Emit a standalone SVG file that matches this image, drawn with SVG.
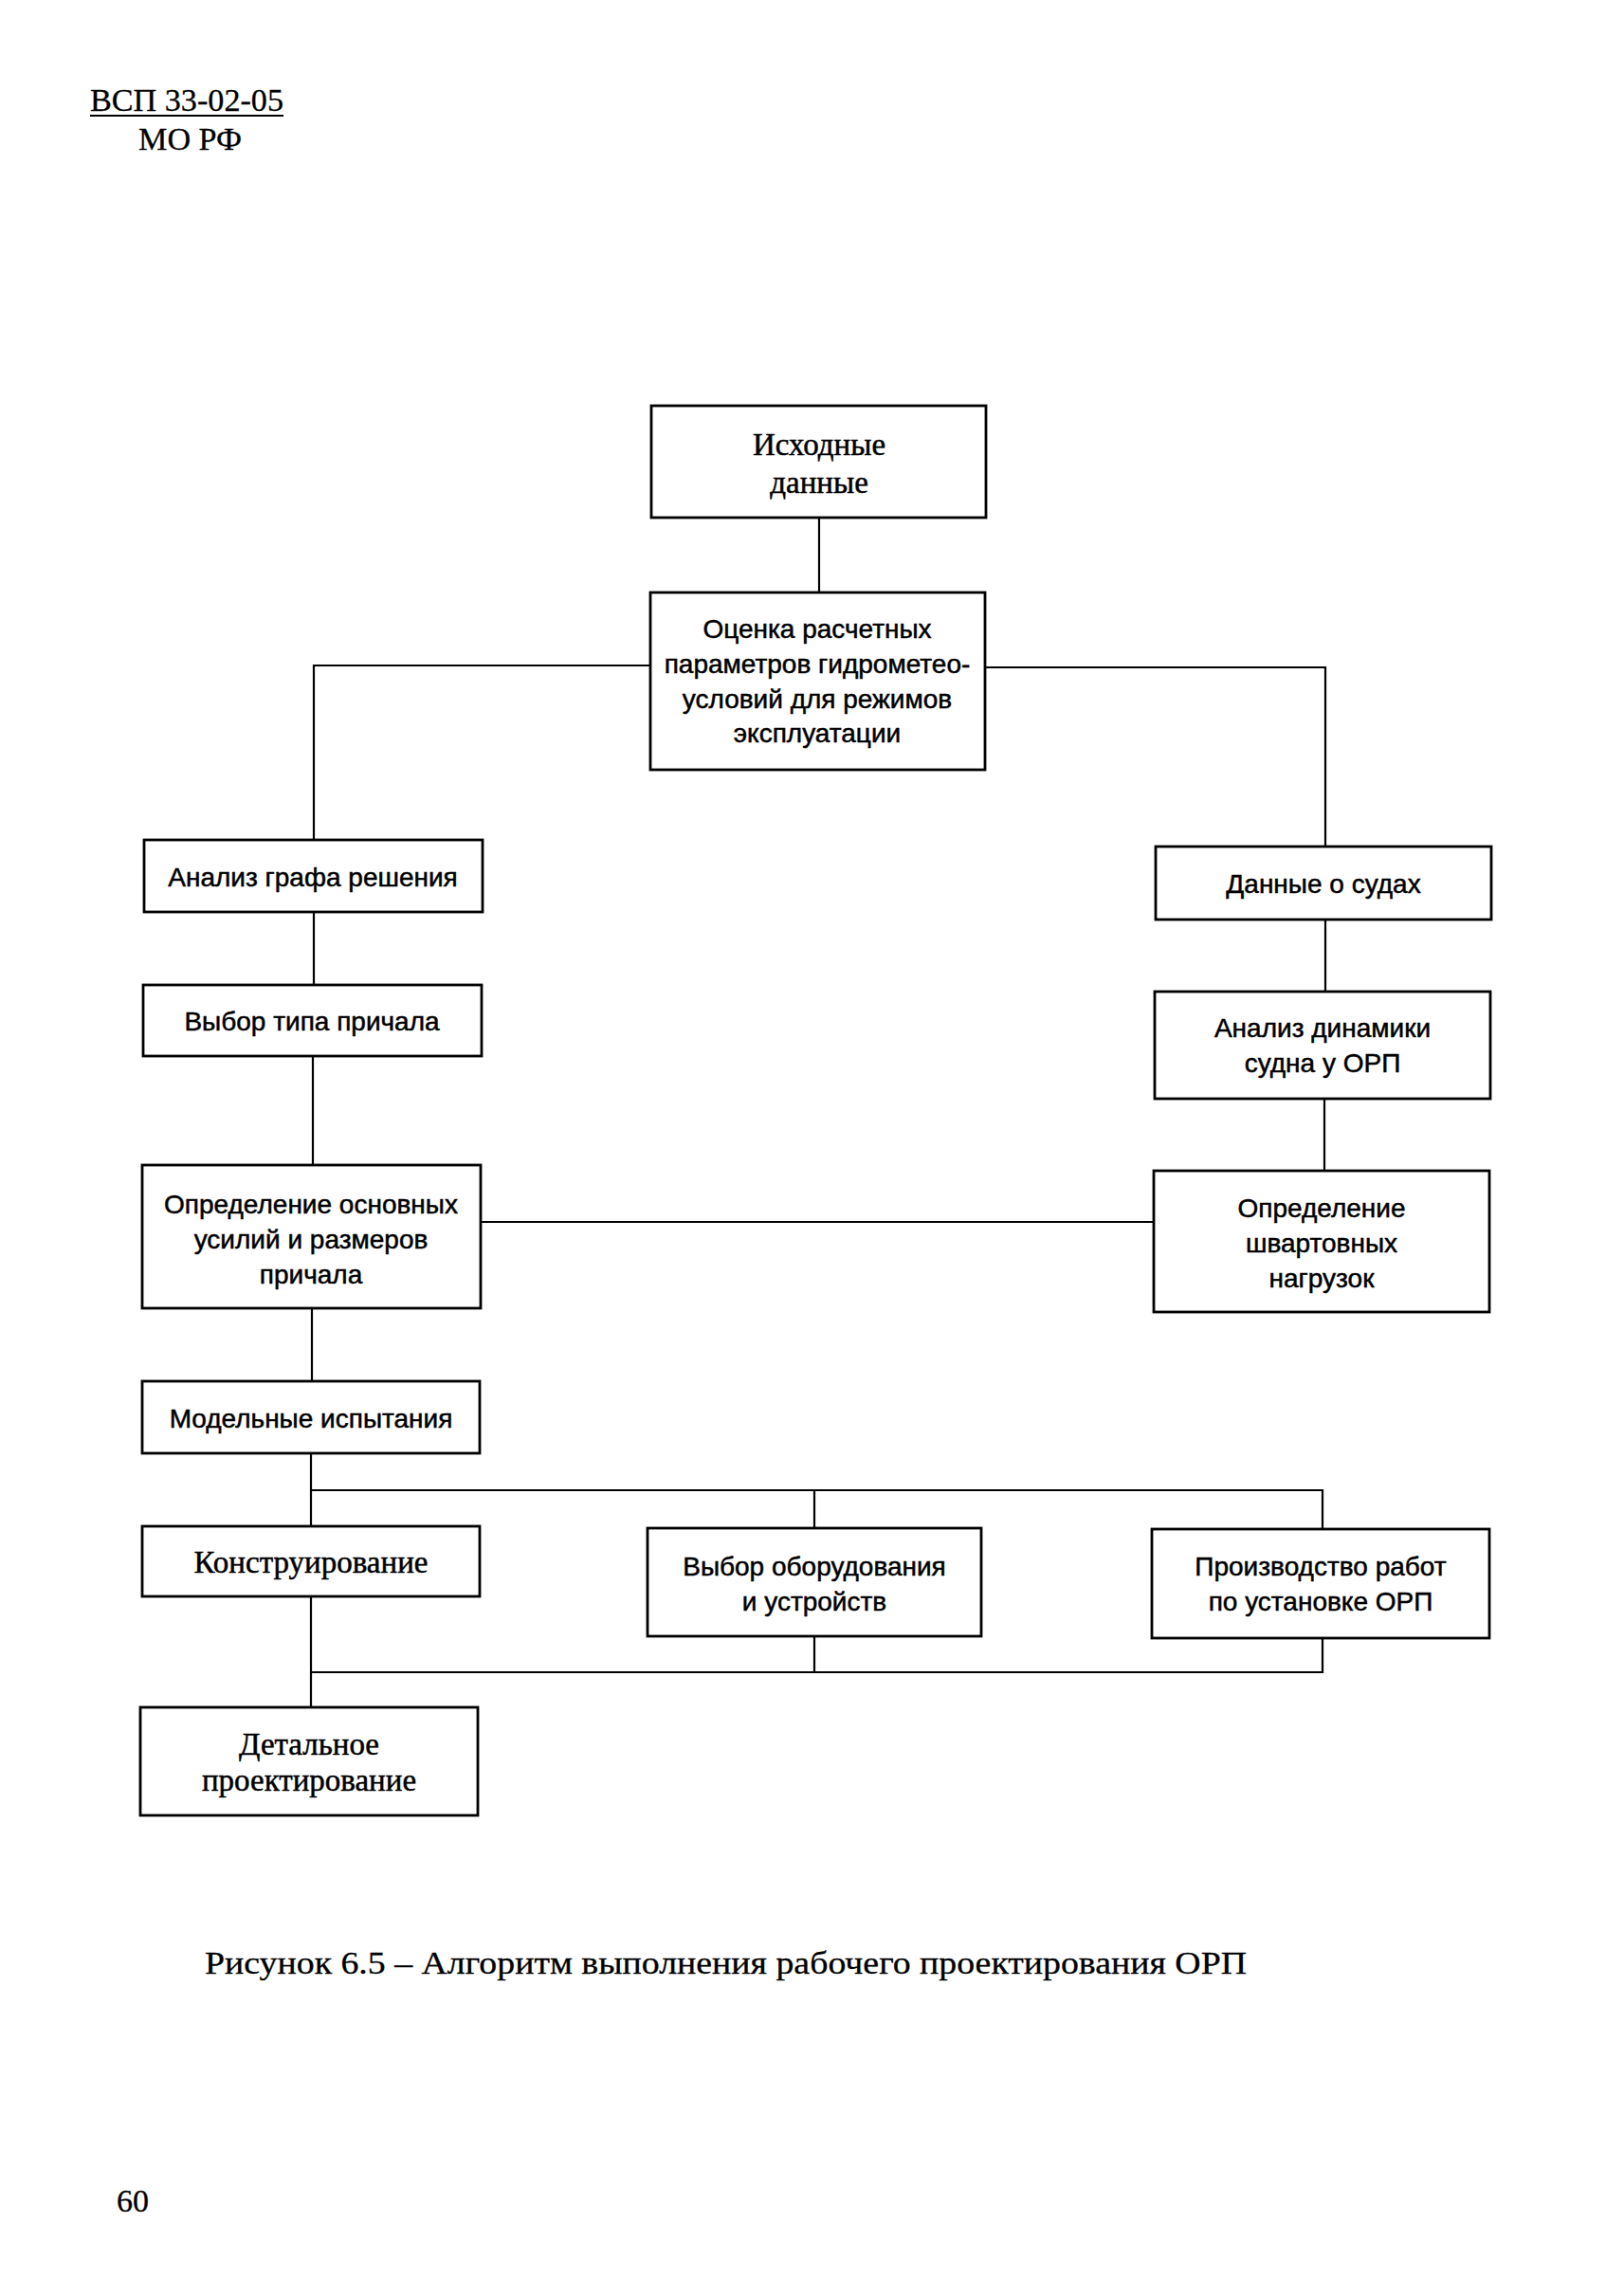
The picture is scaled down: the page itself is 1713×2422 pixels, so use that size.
<svg xmlns="http://www.w3.org/2000/svg" width="1713" height="2422" viewBox="0 0 1713 2422">
<style>
.box{fill:#fff;stroke:#000;stroke-width:2.8}
.con{fill:none;stroke:#000;stroke-width:2.2}
.s{font-family:"Liberation Sans",Arial,sans-serif;font-size:28px;text-anchor:middle;fill:#000;stroke:#000;stroke-width:0.5}
.r{font-family:"Liberation Serif","Times New Roman",serif;font-size:33px;text-anchor:middle;fill:#000;stroke:#000;stroke-width:0.5}
.p{font-family:"Liberation Serif","Times New Roman",serif;font-size:34px;fill:#000;stroke:#000;stroke-width:0.3}
</style>
<rect width="1713" height="2422" fill="#fff"/>
<g id="header">
<text class="p" x="95" y="117" textLength="204" lengthAdjust="spacingAndGlyphs">ВСП 33-02-05</text>
<line x1="95" y1="122" x2="299" y2="122" stroke="#000" stroke-width="2"/>
<text class="p" x="146" y="158" textLength="109" lengthAdjust="spacingAndGlyphs">МО РФ</text>
</g>
<g id="connectors">
<path class="con" d="M864 546V625"/>
<path class="con" d="M686 702H331V886"/>
<path class="con" d="M1039 704H1398V893"/>
<path class="con" d="M331 962V1039"/>
<path class="con" d="M330 1114V1229"/>
<path class="con" d="M507 1289H1217"/>
<path class="con" d="M1398 970V1046"/>
<path class="con" d="M1397 1159V1235"/>
<path class="con" d="M329 1380V1457"/>
<path class="con" d="M328 1533V1610"/>
<path class="con" d="M328 1572H1395V1613M859 1572V1612"/>
<path class="con" d="M328 1684V1801M328 1764H1395V1728M859 1726V1764"/>
</g>
<g id="n1"><rect class="box" x="687" y="428" width="353" height="118"/>
<text class="r" x="864" y="480">Исходные</text><text class="r" x="864" y="520">данные</text></g>
<g id="n2"><rect class="box" x="686" y="625" width="353" height="187"/>
<text class="s" x="862" y="673">Оценка расчетных</text>
<text class="s" x="862" y="710">параметров гидрометео-</text>
<text class="s" x="862" y="747">условий для режимов</text>
<text class="s" x="862" y="783">эксплуатации</text></g>
<g id="n3"><rect class="box" x="152" y="886" width="357" height="76"/>
<text class="s" x="330" y="935">Анализ графа решения</text></g>
<g id="n4"><rect class="box" x="151" y="1039" width="357" height="75"/>
<text class="s" x="329" y="1087">Выбор типа причала</text></g>
<g id="n5"><rect class="box" x="150" y="1229" width="357" height="151"/>
<text class="s" x="328" y="1280">Определение основных</text>
<text class="s" x="328" y="1317">усилий и размеров</text>
<text class="s" x="328" y="1354">причала</text></g>
<g id="n6"><rect class="box" x="150" y="1457" width="356" height="76"/>
<text class="s" x="328" y="1506">Модельные испытания</text></g>
<g id="n7"><rect class="box" x="150" y="1610" width="356" height="74"/>
<text class="r" x="328" y="1659">Конструирование</text></g>
<g id="n8"><rect class="box" x="683" y="1612" width="352" height="114"/>
<text class="s" x="859" y="1662">Выбор оборудования</text>
<text class="s" x="859" y="1699">и устройств</text></g>
<g id="n9"><rect class="box" x="1215" y="1613" width="356" height="115"/>
<text class="s" x="1393" y="1662">Производство работ</text>
<text class="s" x="1393" y="1699">по установке ОРП</text></g>
<g id="n10"><rect class="box" x="148" y="1801" width="356" height="114"/>
<text class="r" x="326" y="1851">Детальное</text>
<text class="r" x="326" y="1889">проектирование</text></g>
<g id="r1"><rect class="box" x="1219" y="893" width="354" height="77"/>
<text class="s" x="1396" y="942">Данные о судах</text></g>
<g id="r2"><rect class="box" x="1218" y="1046" width="354" height="113"/>
<text class="s" x="1395" y="1094">Анализ динамики</text>
<text class="s" x="1395" y="1131">судна у ОРП</text></g>
<g id="r3"><rect class="box" x="1217" y="1235" width="354" height="149"/>
<text class="s" x="1394" y="1284">Определение</text>
<text class="s" x="1394" y="1321">швартовных</text>
<text class="s" x="1394" y="1358">нагрузок</text></g>
<g id="caption">
<text class="p" x="216" y="2082" font-size="36" textLength="1099" lengthAdjust="spacingAndGlyphs">Рисунок 6.5 – Алгоритм выполнения рабочего проектирования ОРП</text>
<text class="p" x="123" y="2333">60</text>
</g>
</svg>
